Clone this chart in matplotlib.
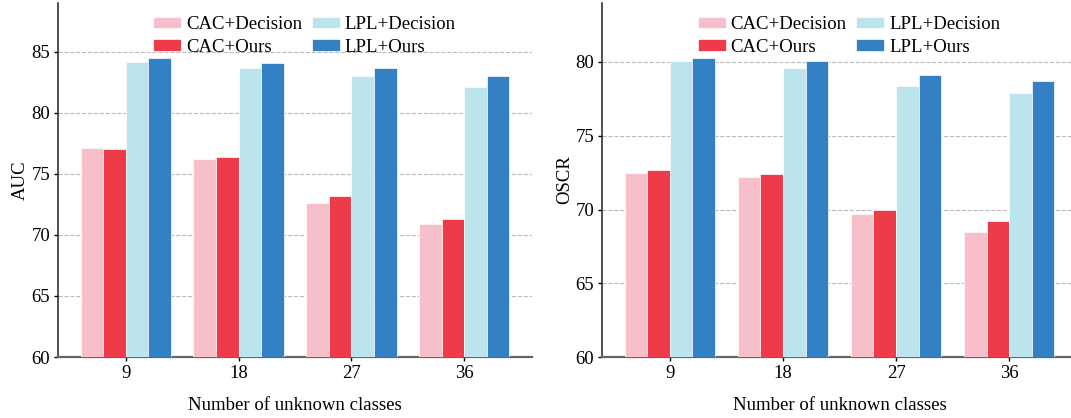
import numpy as np
import matplotlib
matplotlib.use('Agg')
import matplotlib.pyplot as plt

plt.rcParams['font.family'] = ['Liberation Serif', 'DejaVu Serif']

classes = ['9', '18', '27', '36']
methods = ['CAC+Decision', 'CAC+Ours', 'LPL+Decision', 'LPL+Ours']
colors = ['#F7BFCA', '#EE3B4A', '#BCE4EC', '#3380C4']

auc_cac_dec = [77.1, 76.2, 72.6, 70.9]
auc_cac_ours = [77.0, 76.4, 73.2, 71.3]
auc_lpl_dec = [84.2, 83.7, 83.0, 82.1]
auc_lpl_ours = [84.5, 84.1, 83.65, 83.0]

oscr_cac_dec = [72.5, 72.2, 69.7, 68.5]
oscr_cac_ours = [72.7, 72.4, 70.0, 69.2]
oscr_lpl_dec = [80.1, 79.6, 78.4, 77.9]
oscr_lpl_ours = [80.3, 80.1, 79.1, 78.7]

W, H = 1071, 418
fig = plt.figure(figsize=(W / 100, H / 100), dpi=100)

ax1 = fig.add_axes([58 / W, 61 / H, 474 / W, 354 / H])
ax2 = fig.add_axes([602 / W, 61 / H, 475 / W, 354 / H])

x = np.arange(len(classes))
width = 0.2


def draw(ax, series, ylabel, ylim, yticks):
    for i, (vals, name, c) in enumerate(zip(series, methods, colors)):
        ax.bar(x + (i - 1.5) * width, vals, width, color=c, label=name,
               edgecolor='white', linewidth=0.5, zorder=3)
    ax.set_xlim(-0.6, 3.6)
    ax.set_ylim(*ylim)
    ax.set_yticks(yticks)
    ax.set_xticks(x)
    ax.set_xticklabels(classes)
    ax.yaxis.grid(True, linestyle='--', color='#bbbbbb', linewidth=0.8, zorder=0)
    ax.set_axisbelow(True)
    for s in ['top', 'right']:
        ax.spines[s].set_visible(False)
    ax.spines['left'].set_linewidth(1.1)
    ax.spines['left'].set_color('#222222')
    ax.spines['bottom'].set_linewidth(1.6)
    ax.spines['bottom'].set_color('#666666')
    ax.tick_params(labelsize=13.5, length=3, width=1, pad=2.5)
    ax.set_xlabel('Number of unknown classes', fontsize=13.5, labelpad=11)
    ax.set_ylabel(ylabel, fontsize=13.5, labelpad=2)
    ax.legend(ncol=2, frameon=False, fontsize=13.5, loc='upper center',
              bbox_to_anchor=(0.52, 1.0), handlelength=1.5, handleheight=0.55,
              columnspacing=0.5, handletextpad=0.25, labelspacing=0.3,
              borderaxespad=0.3)


draw(ax1, [auc_cac_dec, auc_cac_ours, auc_lpl_dec, auc_lpl_ours], 'AUC',
     (60, 89), [60, 65, 70, 75, 80, 85])
draw(ax2, [oscr_cac_dec, oscr_cac_ours, oscr_lpl_dec, oscr_lpl_ours], 'OSCR',
     (60, 84), [60, 65, 70, 75, 80])

fig.savefig('out.png', dpi=100)
